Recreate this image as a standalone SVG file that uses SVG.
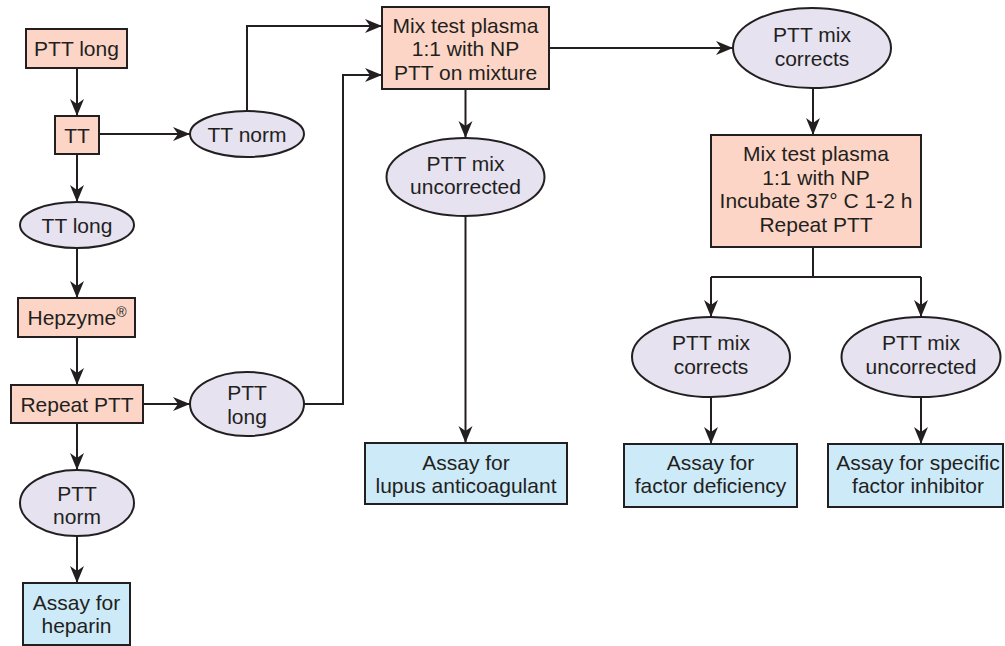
<svg xmlns="http://www.w3.org/2000/svg" width="1005" height="646" viewBox="0 0 1005 646">
  <defs>
    <marker id="arrow" markerUnits="userSpaceOnUse" markerWidth="19" markerHeight="15" refX="17" refY="7" orient="auto">
      <path d="M0,0 L17,7 L0,14 L5,7 z" fill="#231f20"/>
    </marker>
    <style>
      .step { fill: #fdd5c6; stroke: #231f20; stroke-width: 2; }
      .result { fill: #e6e2f0; stroke: #231f20; stroke-width: 2; }
      .assay { fill: #cdeaf9; stroke: #231f20; stroke-width: 2; }
      .lbl { font-family: "Liberation Sans", Arial, sans-serif; font-size: 21px; fill: #231f20; text-anchor: middle; }
      .edge { fill: none; stroke: #231f20; stroke-width: 2; }
      .arr { marker-end: url(#arrow); }
    </style>
  </defs>
  <rect width="1005" height="646" fill="#ffffff"/>

  <!-- connectors -->
  <g id="connectors">
    <path class="edge arr" d="M77,68 V116"/>
    <path class="edge arr" d="M99,134 H190"/>
    <path class="edge arr" d="M77,154 V202"/>
    <path class="edge arr" d="M77,248 V298"/>
    <path class="edge arr" d="M77,337 V385"/>
    <path class="edge arr" d="M143,404 H190"/>
    <path class="edge arr" d="M77,423 V470"/>
    <path class="edge arr" d="M77,536 V583"/>
    <path class="edge arr" d="M247,111 V26 H382"/>
    <path class="edge arr" d="M304,404 H343 V75 H382"/>
    <path class="edge arr" d="M465.5,89 V138"/>
    <path class="edge arr" d="M465.5,216 V443"/>
    <path class="edge arr" d="M549,48 H733"/>
    <path class="edge arr" d="M813,88 V135"/>
    <path class="edge" d="M813,247 V277 M711,277 H921"/>
    <path class="edge arr" d="M711,277 V317"/>
    <path class="edge arr" d="M921,277 V317"/>
    <path class="edge arr" d="M711,397 V444"/>
    <path class="edge arr" d="M921,397 V444"/>
  </g>

  <!-- left column -->
  <g id="ptt-long">
    <rect class="step" x="26" y="29" width="101" height="39"/>
    <text class="lbl" x="76.5" y="56">PTT long</text>
  </g>
  <g id="tt">
    <rect class="step" x="55" y="116" width="44" height="38"/>
    <text class="lbl" x="77" y="142.5">TT</text>
  </g>
  <g id="tt-norm">
    <ellipse class="result" cx="247" cy="134" rx="57" ry="23"/>
    <text class="lbl" x="247" y="141.5">TT norm</text>
  </g>
  <g id="tt-long">
    <ellipse class="result" cx="77" cy="225" rx="57" ry="23"/>
    <text class="lbl" x="77" y="232.5">TT long</text>
  </g>
  <g id="hepzyme">
    <rect class="step" x="18" y="298" width="117" height="39"/>
    <text class="lbl" x="77" y="325">Hepzyme<tspan font-size="14" dy="-8">®</tspan></text>
  </g>
  <g id="repeat-ptt">
    <rect class="step" x="11" y="385" width="132" height="38"/>
    <text class="lbl" x="77" y="411.5">Repeat PTT</text>
  </g>
  <g id="ptt-long-result">
    <ellipse class="result" cx="247" cy="404" rx="57" ry="32"/>
    <text class="lbl" x="247" y="400">PTT</text>
    <text class="lbl" x="247" y="423.5">long</text>
  </g>
  <g id="ptt-norm">
    <ellipse class="result" cx="77" cy="503" rx="57" ry="33"/>
    <text class="lbl" x="77" y="500.5">PTT</text>
    <text class="lbl" x="77" y="524">norm</text>
  </g>
  <g id="assay-heparin">
    <rect class="assay" x="23" y="583" width="107" height="62"/>
    <text class="lbl" x="76.5" y="609.5">Assay for</text>
    <text class="lbl" x="76.5" y="633">heparin</text>
  </g>

  <!-- mixing study -->
  <g id="mix">
    <rect class="step" x="382" y="7" width="167" height="82"/>
    <text class="lbl" x="465.5" y="32.5">Mix test plasma</text>
    <text class="lbl" x="465.5" y="56">1:1 with NP</text>
    <text class="lbl" x="465.5" y="80">PTT on mixture</text>
  </g>
  <g id="mix-uncorrected">
    <ellipse class="result" cx="465.5" cy="177" rx="79" ry="39"/>
    <text class="lbl" x="465.5" y="170.5">PTT mix</text>
    <text class="lbl" x="465.5" y="194">uncorrected</text>
  </g>
  <g id="assay-lupus">
    <rect class="assay" x="365" y="443" width="202" height="61"/>
    <text class="lbl" x="466" y="469.5">Assay for</text>
    <text class="lbl" x="466" y="493">lupus anticoagulant</text>
  </g>
  <g id="mix-corrects">
    <ellipse class="result" cx="812" cy="48" rx="79" ry="40"/>
    <text class="lbl" x="812" y="42">PTT mix</text>
    <text class="lbl" x="812" y="65.5">corrects</text>
  </g>
  <g id="incubate">
    <rect class="step" x="711" y="135" width="210" height="112"/>
    <text class="lbl" x="816" y="161">Mix test plasma</text>
    <text class="lbl" x="816" y="184.5">1:1 with NP</text>
    <text class="lbl" x="816" y="208">Incubate 37° C 1-2 h</text>
    <text class="lbl" x="816" y="231.5">Repeat PTT</text>
  </g>
  <g id="incubated-corrects">
    <ellipse class="result" cx="711" cy="357" rx="79" ry="40"/>
    <text class="lbl" x="711" y="350">PTT mix</text>
    <text class="lbl" x="711" y="373.5">corrects</text>
  </g>
  <g id="incubated-uncorrected">
    <ellipse class="result" cx="921" cy="357" rx="79.5" ry="40"/>
    <text class="lbl" x="921" y="350">PTT mix</text>
    <text class="lbl" x="921" y="373.5">uncorrected</text>
  </g>
  <g id="assay-deficiency">
    <rect class="assay" x="624" y="444" width="173" height="63"/>
    <text class="lbl" x="710.5" y="469.5">Assay for</text>
    <text class="lbl" x="710.5" y="493">factor deficiency</text>
  </g>
  <g id="assay-inhibitor">
    <rect class="assay" x="828" y="444" width="175" height="63"/>
    <text class="lbl" x="918" y="469.5">Assay for specific</text>
    <text class="lbl" x="918" y="493">factor inhibitor</text>
  </g>
</svg>
